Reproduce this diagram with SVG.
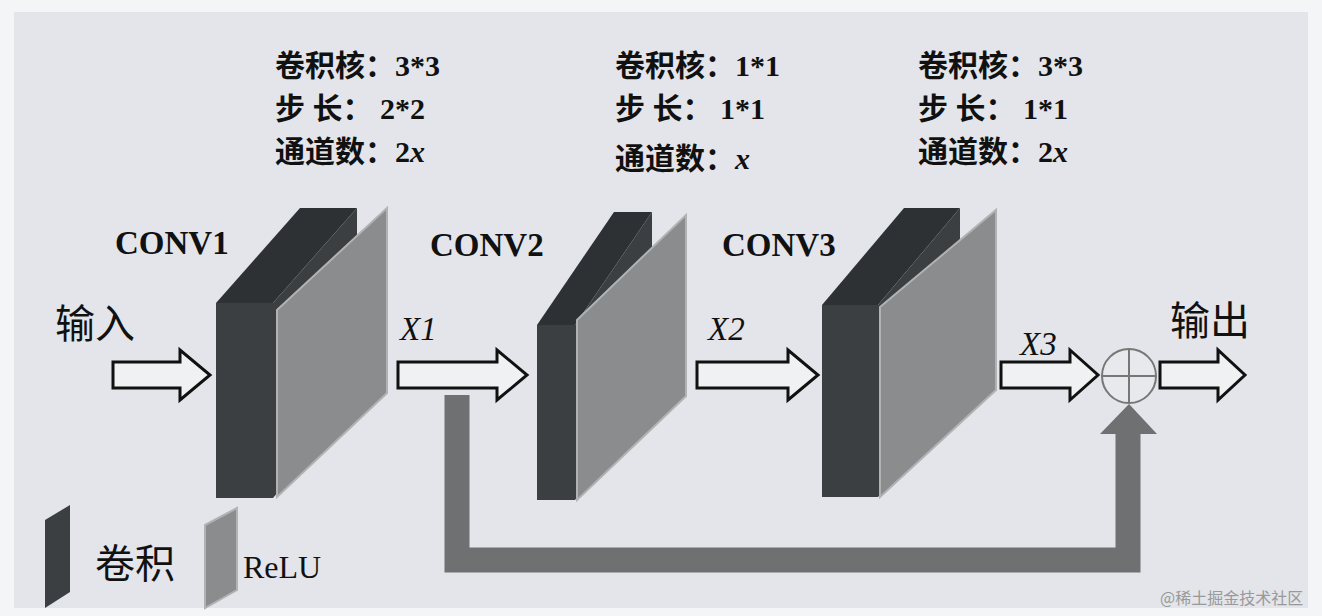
<svg xmlns="http://www.w3.org/2000/svg" width="1322" height="616" viewBox="0 0 1322 616">
<style>
.t{font-family:"Liberation Serif","Noto Sans CJK SC",serif;font-weight:bold;font-size:30px;fill:#111}
.c{font-family:"Liberation Serif",serif;font-weight:bold;font-size:33px;fill:#111}
.cn{font-family:"Noto Sans CJK SC",sans-serif;font-size:40px;fill:#111}
.x{font-family:"Liberation Serif",serif;font-style:italic;font-size:33px;fill:#111}
.dark{fill:#3c3f42}
.darktop{fill:#2e3133}
.plate{fill:#8a8c8e;stroke:#b0b2b4;stroke-width:2}
.arr{fill:#f0f1f3;stroke:#111;stroke-width:3}
</style>
<rect width="1322" height="616" fill="#f4f5f7"/>
<rect x="14" y="12" width="1294" height="596" fill="#e3e5ea"/>
<g id="params1" class="t">
<text x="275" y="76">卷积核：3*3</text><text x="275" y="119">步 长： 2*2</text><text x="275" y="162">通道数：2<tspan font-style="italic">x</tspan></text>
</g>
<g id="params2" class="t">
<text x="615" y="76">卷积核：1*1</text><text x="615" y="119">步 长： 1*1</text><text x="615" y="169">通道数：<tspan font-style="italic">x</tspan></text>
</g>
<g id="params3" class="t">
<text x="918" y="76">卷积核：3*3</text><text x="918" y="119">步 长： 1*1</text><text x="918" y="162">通道数：2<tspan font-style="italic">x</tspan></text>
</g>
<g id="conv1">
<text class="c" x="115" y="254">CONV1</text>
<polygon class="darktop" points="216,303 273,303 357,208 300,208"/>
<polygon class="dark" points="273,303 357,208 357,400 273,498"/>
<rect class="dark" x="216" y="303" width="57" height="195"/>
<polygon class="plate" points="277,310 387,208 387,393 277,497"/>
</g>
<g id="conv2">
<text class="c" x="430" y="256">CONV2</text>
<polygon class="darktop" points="537,325 575,325 652,212 614,212"/>
<polygon class="dark" points="575,325 652,212 652,400 575,500"/>
<rect class="dark" x="537" y="325" width="38" height="175"/>
<polygon class="plate" points="577,320 686,215 686,396 577,500"/>
</g>
<g id="conv3">
<text class="c" x="722" y="256">CONV3</text>
<polygon class="darktop" points="822,305 878,305 960,208 904,208"/>
<polygon class="dark" points="878,305 960,208 960,400 878,497"/>
<rect class="dark" x="822" y="305" width="56" height="192"/>
<polygon class="plate" points="880,307 996,210 996,390 880,497"/>
</g>
<g id="input"><text class="cn" x="55" y="338">输入</text></g>
<g id="output"><text class="cn" x="1170" y="335">输出</text></g>
<g id="sum">
<circle cx="1129" cy="376" r="27" fill="#e8e9ec" stroke="#777" stroke-width="2"/>
<line x1="1102" y1="376" x2="1156" y2="376" stroke="#777" stroke-width="2"/>
<line x1="1129" y1="349" x2="1129" y2="403" stroke="#777" stroke-width="2"/>
</g>
<g id="legend">
<polygon class="dark" points="45,520 70,505 70,592 45,608"/>
<text class="cn" x="95" y="578" font-size="30">卷积</text>
<polygon class="plate" points="205,525 237,508 237,590 205,608"/>
<text x="243" y="578" font-family="Liberation Serif,serif" font-size="32" fill="#111">ReLU</text>
</g>
<g id="connectors">
<polygon class="arr" points="113,362 180,362 180,350 210,375 180,400 180,388 113,388"/>
<polygon class="arr" points="398,362 497,362 497,350 527,375 497,400 497,388 398,388"/>
<polygon class="arr" points="697,362 788,362 788,350 818,375 788,400 788,388 697,388"/>
<polygon class="arr" points="1001,362 1070,362 1070,350 1098,375 1070,400 1070,388 1001,388"/>
<polygon class="arr" points="1160,362 1218,362 1218,350 1245,375 1218,400 1218,388 1160,388"/>
<path d="M457,395 V560 H1128 V432" fill="none" stroke="#6e7072" stroke-width="25"/>
<polygon points="1100,434 1157,434 1129,404" fill="#6e7072"/>
<text class="x" x="400" y="340">X1</text>
<text class="x" x="708" y="340">X2</text>
<text class="x" x="1020" y="355">X3</text>
</g>
<text x="1160" y="604" font-family="Noto Sans CJK SC,sans-serif" font-size="16" fill="#999">@稀土掘金技术社区</text>
</svg>
